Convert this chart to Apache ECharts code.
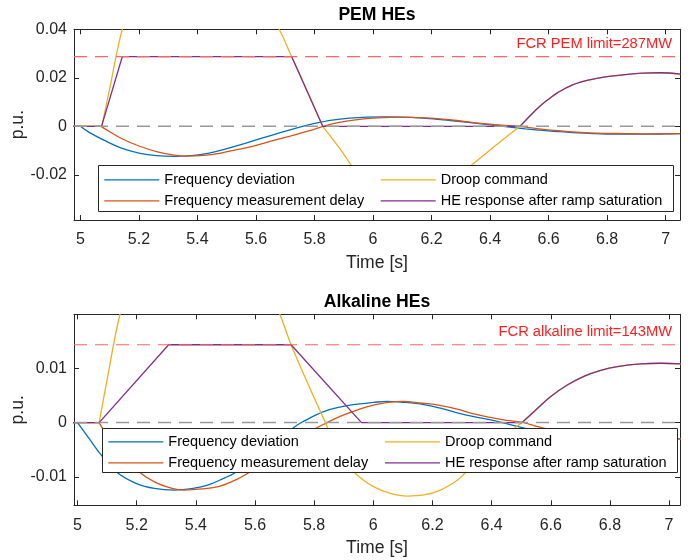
<!DOCTYPE html>
<html><head><meta charset="utf-8">
<script src="https://cdn.jsdelivr.net/npm/echarts@6/dist/echarts.min.js"></script>
<style>html,body{margin:0;padding:0;background:#fff}#c{width:693px;height:560px}</style>
</head><body><div id="c"></div>
<script>
// ---------- tick labels ----------
const xTicks = [5, 5.2, 5.4, 5.6, 5.8, 6, 6.2, 6.4, 6.6, 6.8, 7];
const pemYTicks = [-0.02, 0, 0.02, 0.04];
const alkYTicks = [-0.01, 0, 0.01];
const pemXRange = [4.978, 7.049];
const pemYRange = [-0.0386, 0.04];
const alkXRange = [4.988, 7.037];
const alkYRange = [-0.0152, 0.0199];
const pemLimit = 0.0287;
const alkLimit = 0.0143;
const pemLimitText = 'FCR PEM limit=287MW';
const alkLimitText = 'FCR alkaline limit=143MW';
const seriesNames = ['Frequency deviation', 'Frequency measurement delay', 'Droop command', 'HE response after ramp saturation'];

// ---------- PEM HEs ----------
const pemFreqFlat = [[4.97, 0], [5.0, 0]];
const pemFreqDev = [[5.0,0],[5.03,-0.0025],[5.08,-0.0057],[5.14,-0.0090],[5.2,-0.0110],[5.26,-0.0121],[5.32,-0.0124],[5.38,-0.0121],[5.44,-0.0110],[5.5,-0.0092],[5.56,-0.0071],[5.62,-0.0049],[5.68,-0.0027],[5.74,-0.0006],[5.8,0.0012],[5.86,0.0026],[5.92,0.0034],[5.98,0.0038],[6.04,0.0039],[6.1,0.0038],[6.16,0.0035],[6.22,0.0029],[6.28,0.0022],[6.34,0.0014],[6.4,0.0006],[6.46,-0.0002],[6.52,-0.0010],[6.58,-0.0017],[6.64,-0.0022],[6.7,-0.0027],[6.76,-0.0030],[6.82,-0.0032],[6.88,-0.0032],[6.94,-0.0032],[7.0,-0.0031],[7.05,-0.0030]];
const pemMeasFlat = [[4.97, 0], [5.07, 0]];
const pemMeasDelay = [[5.07,0],[5.1,-0.0022],[5.14,-0.0050],[5.2,-0.0081],[5.26,-0.0104],[5.32,-0.0119],[5.36,-0.0123],[5.42,-0.0120],[5.48,-0.0110],[5.54,-0.0095],[5.6,-0.0078],[5.66,-0.0058],[5.72,-0.0039],[5.78,-0.0019],[5.83,0.0000],[5.88,0.0015],[5.94,0.0027],[6.0,0.0034],[6.06,0.0037],[6.12,0.0037],[6.18,0.0035],[6.24,0.0030],[6.3,0.0022],[6.36,0.0013],[6.44,0.0005],[6.5,0.0000],[6.56,-0.0009],[6.62,-0.0017],[6.68,-0.0023],[6.74,-0.0027],[6.8,-0.0029],[6.86,-0.0030],[6.92,-0.0031],[6.98,-0.0031],[7.05,-0.0030]];
const pemDroopFlat = [[4.97, 0], [5.073, 0]];
const pemDroopUp = [[5.073,0],[5.1,0.0155],[5.143,0.040],[5.2,0.060],[5.26,0.075],[5.32,0.085],[5.36,0.088],[5.42,0.086],[5.48,0.079],[5.54,0.068],[5.6,0.056],[5.679,0.040],[5.722,0.0287],[5.75,0.0214],[5.828,0]];
const pemDroopDown = [[5.828,0],[5.864,-0.0056],[5.898,-0.0111],[5.927,-0.0163],[5.96,-0.0210],[6.0,-0.0245],[6.06,-0.0270],[6.12,-0.0275],[6.18,-0.0265],[6.24,-0.0235],[6.3,-0.0195],[6.337,-0.0159],[6.4,-0.0097],[6.45,-0.0049],[6.502,0]];
const pemHeRamp = [[4.97,0],[5.072,0],[5.143,0.0287],[5.722,0.0287],[5.828,0],[6.502,0]];
const pemHeCurve = [[6.502,0],[6.54,0.0048],[6.57,0.0083],[6.6,0.0112],[6.63,0.0138],[6.68,0.0170],[6.74,0.0192],[6.8,0.0205],[6.86,0.0213],[6.92,0.0219],[6.98,0.0221],[7.05,0.0215]];

// ---------- Alkaline HEs ----------
const alkFreqFlat = [[4.97, 0], [5.0, 0]];
const alkFreqDev = [[5.0,0],[5.04,-0.0030],[5.079,-0.0059],[5.135,-0.0092],[5.2,-0.0112],[5.26,-0.0121],[5.327,-0.0124],[5.39,-0.0121],[5.44,-0.0115],[5.5,-0.0101],[5.53,-0.0093],[5.6,-0.0066],[5.66,-0.0041],[5.731,-0.0009],[5.76,0.0001],[5.832,0.0020],[5.89,0.0029],[5.946,0.0034],[6.0,0.0037],[6.047,0.0039],[6.11,0.0037],[6.171,0.0033],[6.23,0.0026],[6.284,0.0018],[6.34,0.0011],[6.397,0.0005],[6.487,-0.0007],[6.56,-0.0016],[6.64,-0.0024],[6.72,-0.0029],[6.8,-0.0032],[6.88,-0.0032],[6.96,-0.0031],[7.04,-0.0030]];
const alkMeasFlat = [[4.97, 0], [5.073, 0]];
const alkMeasDelay = [[5.073,0],[5.1,-0.0024],[5.144,-0.0055],[5.2,-0.0087],[5.26,-0.0109],[5.32,-0.0121],[5.36,-0.0124],[5.42,-0.0122],[5.48,-0.0117],[5.54,-0.0104],[5.6,-0.0085],[5.66,-0.0062],[5.72,-0.0039],[5.78,-0.0018],[5.844,0],[5.9,0.0014],[5.95,0.0024],[6.0,0.0032],[6.05,0.0037],[6.1,0.0039],[6.16,0.0036],[6.22,0.0032],[6.28,0.0025],[6.34,0.0016],[6.4,0.0009],[6.45,0.0004],[6.5,0.0001],[6.56,-0.0008],[6.62,-0.0016],[6.68,-0.0022],[6.74,-0.0026],[6.8,-0.0029],[6.86,-0.0030],[6.92,-0.0030],[6.98,-0.0030],[7.04,-0.0030]];
const alkDroopFlat = [[4.97, 0], [5.073, 0]];
const alkDroopUp = [[5.073,0],[5.1,0.0079],[5.144,0.020],[5.2,0.030],[5.26,0.038],[5.32,0.0432],[5.36,0.0445],[5.42,0.0438],[5.48,0.042],[5.54,0.0372],[5.6,0.0305],[5.684,0.0199],[5.722,0.0143],[5.78,0.0070],[5.838,0]];
const alkDroopDown = [[5.838,0],[5.88,-0.0048],[5.934,-0.0090],[5.96,-0.0103],[6.002,-0.0118],[6.058,-0.0130],[6.115,-0.0135],[6.171,-0.0133],[6.227,-0.0124],[6.284,-0.0106],[6.309,-0.0093],[6.36,-0.0066],[6.42,-0.0037],[6.46,-0.0018],[6.503,0]];
const alkHeRamp = [[4.97,0],[5.073,0],[5.308,0.0143],[5.722,0.0143],[5.96,0],[6.503,0]];
const alkHeCurve = [[6.503,0],[6.543,0.0020],[6.6,0.0048],[6.656,0.0069],[6.712,0.0085],[6.769,0.0096],[6.825,0.0103],[6.904,0.0108],[6.972,0.0109],[7.04,0.0108]];

// ---------- styling ----------
const FONT = '"Liberation Sans", Arial, Helvetica, sans-serif';
const AX = '#262626';
const COL = {blue:'#0072BD', orange:'#D95319', yellow:'#EDB120', purple:'#7E2F8E'};
const fmt = v => String(Math.round(v * 10000) / 10000);

function xAx(grid, range, pos, main) {
  return {
    type:'value', gridIndex:grid, min:range[0], max:range[1], position:pos,
    axisLine:{show:true, onZero:false, lineStyle:{color:AX, width:1}},
    axisTick:{show:true, inside:true, length:5, customValues:xTicks, lineStyle:{color:AX, width:1}},
    axisLabel:{show:main, customValues:xTicks, margin:12, fontSize:16, color:AX, fontFamily:FONT, formatter:fmt},
    splitLine:{show:false},
    name: main ? 'Time [s]' : '', nameLocation:'middle', nameGap:34, nameMoveOverlap:false,
    nameTextStyle:{fontSize:17.6, color:AX, fontFamily:FONT}
  };
}
function yAx(grid, range, ticks, pos, main) {
  return {
    type:'value', gridIndex:grid, min:range[0], max:range[1], position:pos,
    axisLine:{show:true, onZero:false, lineStyle:{color:AX, width:1}},
    axisTick:{show:true, inside:true, length:5, customValues:ticks, lineStyle:{color:AX, width:1}},
    axisLabel:{show:main, customValues:ticks, margin:7, fontSize:16, color:AX, fontFamily:FONT, formatter:fmt},
    splitLine:{show:false},
    name: main ? 'p.u.' : '', nameLocation:'middle', nameGap:47, nameMoveOverlap:false,
    nameTextStyle:{fontSize:17.6, color:AX, fontFamily:FONT}
  };
}
function S(name, data, g, color, smooth) {
  return {name, type:'line', xAxisIndex:g*2, yAxisIndex:g*2, data,
    smooth: smooth ? 0.4 : false, symbol:'none', showSymbol:false,
    lineStyle:{color, width:1.3}, itemStyle:{color}, emphasis:{disabled:true}, animation:false};
}
function refLine(g, range, value, color, width) {
  return {name:'ref' + g + '_' + value, type:'line', xAxisIndex:g*2, yAxisIndex:g*2,
    data:[[range[0], value], [range[1], value]], symbol:'none', showSymbol:false, silent:true,
    lineStyle:{color, type:[13,8], width}, itemStyle:{color}, emphasis:{disabled:true}, animation:false};
}
function plotSeries(g, d) {
  return [
    S(seriesNames[0], d.freqFlat, g, COL.blue, false),
    S(seriesNames[0], d.freq, g, COL.blue, true),
    S(seriesNames[1], d.measFlat, g, COL.orange, false),
    S(seriesNames[1], d.meas, g, COL.orange, true),
    S(seriesNames[2], d.droopFlat, g, COL.yellow, false),
    S(seriesNames[2], d.droopUp, g, COL.yellow, true),
    S(seriesNames[2], d.droopDown, g, COL.yellow, true),
    S(seriesNames[2], d.heCurve, g, COL.yellow, true),
    S(seriesNames[3], d.heRamp, g, COL.purple, false),
    S(seriesNames[3], d.heCurve, g, COL.purple, true),
    refLine(g, d.range, 0, '#9a9a9a', 1.5),
    refLine(g, d.range, d.limit, '#ff6464', 1.2)
  ];
}
function legendCol(names, left, top) {
  return {data:names, orient:'vertical', left, top, padding:0, itemGap:6, itemWidth:55, itemHeight:1.3,
    icon:'rect', selectedMode:false, z:20,
    textStyle:{fontSize:14.5, lineHeight:14, color:'#000', fontFamily:FONT}};
}
const legendBoxes = [
  {type:'rect', z:10, silent:true, shape:{x:98.5, y:165.5, width:575, height:46}, style:{fill:'#fff', stroke:AX, lineWidth:1}},
  {type:'rect', z:10, silent:true, shape:{x:102.5, y:428.5, width:575, height:44}, style:{fill:'#fff', stroke:AX, lineWidth:1}}
];

const chart = echarts.init(document.getElementById('c'), null, {renderer:'canvas'});
chart.setOption({
  animation:false,
  backgroundColor:'#fff',
  textStyle:{fontFamily:FONT},
  title:[
    {text:'PEM HEs', left:377, top:6, textAlign:'center', padding:0, textStyle:{fontSize:17.6, fontWeight:'bold', color:'#000', fontFamily:FONT}},
    {text:'Alkaline HEs', left:377, top:293.5, textAlign:'center', padding:0, textStyle:{fontSize:17.6, fontWeight:'bold', color:'#000', fontFamily:FONT}}
  ],
  grid:[
    {left:74, top:29.3, width:606, height:190.7, containLabel:false, outerBoundsMode:'none'},
    {left:74, top:314.3, width:606, height:191, containLabel:false, outerBoundsMode:'none'}
  ],
  xAxis:[xAx(0, pemXRange, 'bottom', true), xAx(0, pemXRange, 'top', false),
         xAx(1, alkXRange, 'bottom', true), xAx(1, alkXRange, 'top', false)],
  yAxis:[yAx(0, pemYRange, pemYTicks, 'left', true), yAx(0, pemYRange, pemYTicks, 'right', false),
         yAx(1, alkYRange, alkYTicks, 'left', true), yAx(1, alkYRange, alkYTicks, 'right', false)],
  legend:[
    legendCol([seriesNames[0], seriesNames[1]], 104.3, 172.35),
    legendCol([seriesNames[2], seriesNames[3]], 380.7, 172.35),
    legendCol([seriesNames[0], seriesNames[1]], 108.3, 434.35),
    legendCol([seriesNames[2], seriesNames[3]], 385, 434.35)
  ],
  graphic: legendBoxes,
  series:[].concat(
    plotSeries(0, {freqFlat:pemFreqFlat, freq:pemFreqDev, measFlat:pemMeasFlat, meas:pemMeasDelay,
      droopFlat:pemDroopFlat, droopUp:pemDroopUp, droopDown:pemDroopDown, heRamp:pemHeRamp, heCurve:pemHeCurve,
      range:pemXRange, limit:pemLimit}),
    plotSeries(1, {freqFlat:alkFreqFlat, freq:alkFreqDev, measFlat:alkMeasFlat, meas:alkMeasDelay,
      droopFlat:alkDroopFlat, droopUp:alkDroopUp, droopDown:alkDroopDown, heRamp:alkHeRamp, heCurve:alkHeCurve,
      range:alkXRange, limit:alkLimit})
  )
});

// limit labels, placed through the library's own scales
function limitLabel(g, range, limit, text) {
  const p = chart.convertToPixel({xAxisIndex:g*2, yAxisIndex:g*2}, [range[1], limit]);
  return {type:'text', z:5, silent:true, x:p[0] - 8, y:p[1] - 12.4,
    style:{text, fill:'#ff1e1e', fontSize:14.7, fontFamily:FONT,
      align:'right', verticalAlign:'middle', textAlign:'right', textVerticalAlign:'middle'}};
}
chart.setOption({graphic: legendBoxes.concat([
  limitLabel(0, pemXRange, pemLimit, pemLimitText),
  limitLabel(1, alkXRange, alkLimit, alkLimitText)
])});
</script></body></html>
